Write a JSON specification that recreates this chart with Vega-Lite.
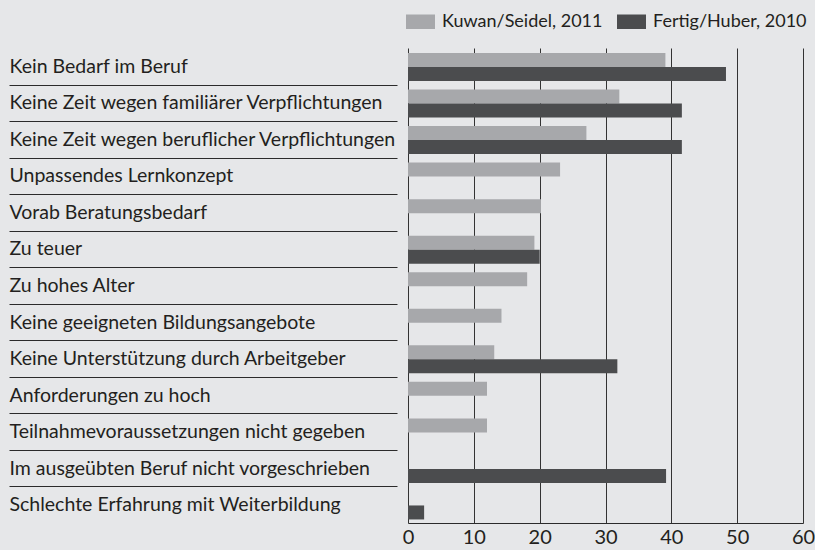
{
  "$schema": "https://vega.github.io/schema/vega-lite/v6.json",
  "width": 395,
  "height": 475,
  "autosize": {"type": "none"},
  "padding": {"left": 408, "top": 48, "right": 12, "bottom": 27},
  "background": "#e6e7e9",
  "config": {"view": {"stroke": null}, "font": "Lato"},
  "data": {"values": [
    {"reason": "Kein Bedarf im Beruf", "study": "Kuwan/Seidel, 2011", "pct": 39.1},
    {"reason": "Kein Bedarf im Beruf", "study": "Fertig/Huber, 2010", "pct": 48.3},
    {"reason": "Keine Zeit wegen familiärer Verpflichtungen", "study": "Kuwan/Seidel, 2011", "pct": 32.1},
    {"reason": "Keine Zeit wegen familiärer Verpflichtungen", "study": "Fertig/Huber, 2010", "pct": 41.6},
    {"reason": "Keine Zeit wegen beruflicher Verpflichtungen", "study": "Kuwan/Seidel, 2011", "pct": 27.1},
    {"reason": "Keine Zeit wegen beruflicher Verpflichtungen", "study": "Fertig/Huber, 2010", "pct": 41.6},
    {"reason": "Unpassendes Lernkonzept", "study": "Kuwan/Seidel, 2011", "pct": 23.1},
    {"reason": "Vorab Beratungsbedarf", "study": "Kuwan/Seidel, 2011", "pct": 20.2},
    {"reason": "Zu teuer", "study": "Kuwan/Seidel, 2011", "pct": 19.2},
    {"reason": "Zu teuer", "study": "Fertig/Huber, 2010", "pct": 20.0},
    {"reason": "Zu hohes Alter", "study": "Kuwan/Seidel, 2011", "pct": 18.1},
    {"reason": "Keine geeigneten Bildungsangebote", "study": "Kuwan/Seidel, 2011", "pct": 14.2},
    {"reason": "Keine Unterstützung durch Arbeitgeber", "study": "Kuwan/Seidel, 2011", "pct": 13.1},
    {"reason": "Keine Unterstützung durch Arbeitgeber", "study": "Fertig/Huber, 2010", "pct": 31.8},
    {"reason": "Anforderungen zu hoch", "study": "Kuwan/Seidel, 2011", "pct": 12.0},
    {"reason": "Teilnahmevoraussetzungen nicht gegeben", "study": "Kuwan/Seidel, 2011", "pct": 12.0},
    {"reason": "Im ausgeübten Beruf nicht vorgeschrieben", "study": "Fertig/Huber, 2010", "pct": 39.2},
    {"reason": "Schlechte Erfahrung mit Weiterbildung", "study": "Fertig/Huber, 2010", "pct": 2.45}
  ]},
  "mark": {"type": "bar"},
  "encoding": {
    "y": {
      "field": "reason",
      "type": "nominal",
      "sort": null,
      "scale": {"paddingInner": 0, "paddingOuter": 0},
      "axis": {
        "title": null,
        "domain": false,
        "offset": 11,
        "tickBand": "extent",
        "tickSize": 388,
        "tickColor": "#2b2b2b",
        "tickWidth": 1,
        "tickOpacity": {"condition": {"test": "datum.value === 'Schlechte Erfahrung mit Weiterbildung' || datum.extra", "value": 0}, "value": 1},
        "labelAlign": "left",
        "labelPadding": 0,
        "labelFontSize": 19.5,
        "labelColor": "#231f20",
        "labelLimit": 0
      }
    },
    "yOffset": {
      "field": "study",
      "type": "nominal",
      "sort": ["Kuwan/Seidel, 2011", "Fertig/Huber, 2010"],
      "scale": {"paddingInner": 0, "paddingOuter": 0.305, "align": 0.585}
    },
    "x": {
      "field": "pct",
      "type": "quantitative",
      "scale": {"domain": [0, 60], "nice": false},
      "axis": {
        "title": null,
        "values": [0, 10, 20, 30, 40, 50, 60],
        "grid": true,
        "gridColor": "#333333",
        "gridWidth": 1,
        "domainColor": "#2b2b2b",
        "domainWidth": 1,
        "ticks": false,
        "labelPadding": 4,
        "labelFontSize": 20,
        "labelColor": "#231f20",
        "labelFlush": false
      }
    },
    "color": {
      "field": "study",
      "type": "nominal",
      "sort": ["Kuwan/Seidel, 2011", "Fertig/Huber, 2010"],
      "scale": {"domain": ["Kuwan/Seidel, 2011", "Fertig/Huber, 2010"], "range": ["#a7a8ab", "#4b4c4e"]},
      "legend": {
        "title": null,
        "orient": "none",
        "direction": "horizontal",
        "legendX": -2,
        "legendY": -41,
        "padding": 0,
        "symbolType": "M-1,-0.5H1V0.5H-1Z",
        "symbolSize": 841,
        "symbolStrokeWidth": 0,
        "symbolOpacity": 1,
        "labelFontSize": 18,
        "labelColor": "#231f20",
        "labelOffset": 7,
        "columnPadding": 14,
        "labelLimit": 0
      }
    }
  }
}
